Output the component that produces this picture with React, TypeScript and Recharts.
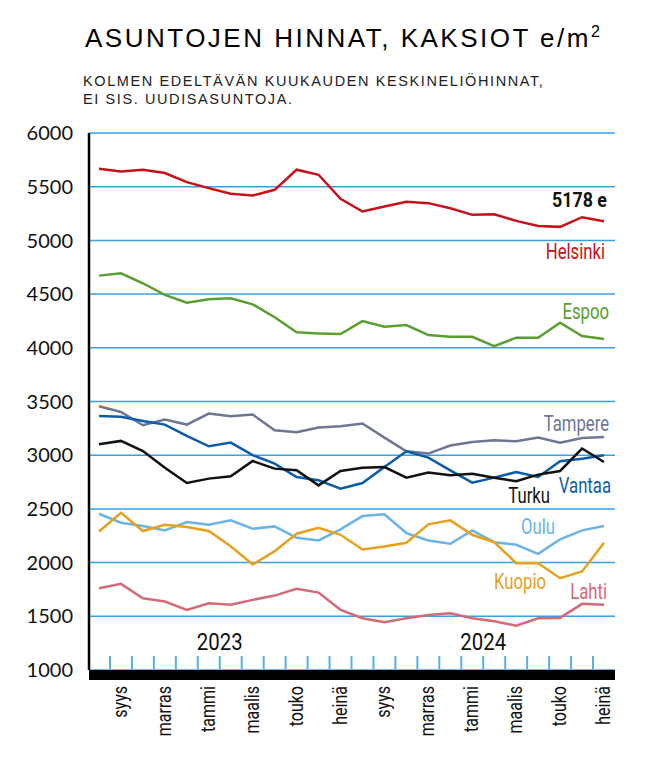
import React from 'react';
import { LineChart, Line, XAxis, YAxis, CartesianGrid, ReferenceLine } from 'recharts';

// kuukaudet elo 2022 - heinä 2024
const months = [
  'elo', 'syys', 'loka', 'marras', 'joulu', 'tammi', 'helmi', 'maalis', 'huhti', 'touko', 'kesä', 'heinä',
  'elo', 'syys', 'loka', 'marras', 'joulu', 'tammi', 'helmi', 'maalis', 'huhti', 'touko', 'kesä', 'heinä',
];
const years = ['2023', '2024'];
const yTicks = [1000, 1500, 2000, 2500, 3000, 3500, 4000, 4500, 5000, 5500, 6000];

const helsinki = [5667, 5642, 5658, 5627, 5543, 5487, 5434, 5418, 5471, 5658, 5611, 5387, 5269, 5316, 5359, 5347, 5300, 5238, 5244, 5182, 5135, 5126, 5216, 5178];
const espoo = [4672, 4694, 4601, 4492, 4420, 4452, 4461, 4405, 4284, 4144, 4134, 4128, 4249, 4196, 4212, 4119, 4103, 4103, 4016, 4094, 4094, 4233, 4109, 4081];
const tampere = [3456, 3403, 3279, 3332, 3285, 3388, 3363, 3379, 3232, 3214, 3257, 3270, 3295, 3164, 3036, 3015, 3090, 3123, 3139, 3130, 3164, 3117, 3161, 3170];
const vantaa = [3366, 3357, 3319, 3285, 3180, 3083, 3117, 3000, 2922, 2797, 2766, 2689, 2741, 2890, 3036, 2978, 2859, 2744, 2791, 2843, 2797, 2943, 2968, 3000];
const turku = [3102, 3133, 3039, 2884, 2741, 2782, 2803, 2946, 2875, 2859, 2719, 2853, 2884, 2890, 2791, 2838, 2813, 2828, 2791, 2757, 2819, 2853, 3062, 2937];
const oulu = [2455, 2371, 2340, 2300, 2377, 2353, 2393, 2315, 2337, 2231, 2206, 2309, 2433, 2449, 2275, 2206, 2175, 2300, 2190, 2166, 2082, 2216, 2300, 2340];
const kuopio = [2290, 2464, 2294, 2353, 2331, 2294, 2153, 1982, 2107, 2269, 2325, 2259, 2122, 2150, 2185, 2356, 2393, 2259, 2190, 1995, 1995, 1855, 1917, 2185];
const lahti = [1761, 1802, 1668, 1637, 1560, 1622, 1607, 1653, 1693, 1756, 1721, 1560, 1482, 1444, 1482, 1513, 1528, 1482, 1454, 1413, 1482, 1485, 1616, 1607];

const series = [
  { key: 'Helsinki', values: helsinki, color: '#c4111b', dx: 1, dy: 30 },
  { key: 'Espoo', values: espoo, color: '#5a9e30', dx: 5, dy: -28 },
  { key: 'Tampere', values: tampere, color: '#6d7792', dx: 5, dy: -14 },
  { key: 'Vantaa', values: vantaa, color: '#0c5cab', dx: 7, dy: 30 },
  { key: 'Turku', values: turku, color: '#111111', dx: -54, dy: 33 },
  { key: 'Oulu', values: oulu, color: '#6cb3e6', dx: -49, dy: 0 },
  { key: 'Kuopio', values: kuopio, color: '#e6a11f', dx: -58, dy: 38 },
  { key: 'Lahti', values: lahti, color: '#d26a78', dx: 3, dy: -14 },
];

const data = months.map((m, i) => {
  const row: any = { i, month: m };
  series.forEach((s) => { row[s.key] = s.values[i]; });
  return row;
});

const last = months.length - 1;
const cond = 'Roboto, sans-serif';
const sans = '"Liberation Sans", Arial, sans-serif';

// väliviivat kuukausien väliin + kuukausinimet joka toiselle
const xTicks: number[] = [];
months.forEach((_, i) => {
  if (i % 2 === 1) xTicks.push(i);
  if (i < last) xTicks.push(i + 0.5);
});
const yearPos = months.map((m, i) => (m === 'tammi' ? i + 0.5 : -1)).filter((v) => v >= 0);

const MonthTick = (props: any) => {
  const { x, y, payload } = props;
  const v = payload.value;
  if (!Number.isInteger(v)) {
    return <line x1={x} x2={x} y1={y - 14} y2={y - 1} stroke="#5aaee6" strokeWidth={2} />;
  }
  return (
    <text
      transform={`translate(${x + 6},${y + 16}) rotate(-90) scale(0.8,1)`}
      textAnchor="end"
      fontFamily={cond}
      fontSize={20}
      fill="#111"
    >
      {months[v]}
    </text>
  );
};

const YearLabel = (props: any) => {
  const { viewBox, value } = props;
  const cx = viewBox.x + viewBox.width / 2;
  const by = viewBox.y + viewBox.height - 20;
  return (
    <text transform={`translate(${cx},${by}) scale(0.85,1)`} textAnchor="middle" fontFamily={cond} fontSize={24} fill="#111">
      {value}
    </text>
  );
};

const endLabel = (s: any) => (props: any) => {
  const { x, y, index } = props;
  if (index !== last) return null;
  return (
    <g>
      {s.key === 'Helsinki' && (
        <text transform={`translate(${x + 3},${y - 22}) scale(0.85,1)`} dy="0.35em" textAnchor="end" fontFamily={cond} fontWeight="bold" fontSize={21} fill="#111">
          {`${s.values[last]} e`}
        </text>
      )}
      <text transform={`translate(${x + s.dx},${y + s.dy}) scale(0.76,1)`} dy="0.36em" textAnchor="end" fontFamily={cond} fontSize={22} fill={s.color}>
        {s.key}
      </text>
    </g>
  );
};

const App: React.FC = () => {
  return (
    <div style={{ position: 'absolute', left: 0, top: 0, width: 650, height: 763, background: '#fff' }}>
      <svg width={650} height={120} style={{ position: 'absolute', left: 0, top: 0 }}>
        <text x={85} y={47} fontFamily={sans} fontSize={26} letterSpacing={2.5} fill="#000">
          ASUNTOJEN HINNAT, KAKSIOT e/m<tspan dy={-10} fontSize={16}>2</tspan>
        </text>
        <text x={83} y={86} fontFamily={sans} fontSize={14.5} letterSpacing={1.6} fill="#222">
          KOLMEN EDELTÄVÄN KUUKAUDEN KESKINELIÖHINNAT,
        </text>
        <text x={83} y={104} fontFamily={sans} fontSize={14.5} letterSpacing={1.6} fill="#222">
          EI SIS. UUDISASUNTOJA.
        </text>
      </svg>
      <div style={{ position: 'absolute', left: 0, top: 0 }}>
        <LineChart width={650} height={763} data={data} margin={{ top: 133, right: 35, bottom: 33, left: 29 }}>
          <CartesianGrid vertical={false} stroke="#3b9fe0" strokeWidth={1.5} />
          <XAxis
            dataKey="i"
            type="number"
            domain={[0, last]}
            ticks={xTicks}
            interval={0}
            padding={{ left: 10, right: 11 }}
            height={60}
            tickSize={0}
            tickMargin={0}
            tickLine={false}
            tick={<MonthTick />}
            axisLine={{ stroke: '#000', strokeWidth: 10, transform: 'translate(0,5)' }}
          />
          <YAxis
            domain={[1000, 6000]}
            ticks={yTicks}
            interval={0}
            width={60}
            tickSize={0}
            tickMargin={16}
            tickLine={false}
            axisLine={{ stroke: '#000', strokeWidth: 2.5 }}
            tick={{ fontFamily: 'Lato, sans-serif', fontSize: 20, fill: '#111' }}
          />
          {yearPos.map((p, k) => (
            <ReferenceLine
              key={years[k]}
              x={p}
              stroke="none"
              label={<YearLabel value={years[k]} />}
            />
          ))}
          {series.map((s) => (
            <Line
              key={s.key}
              dataKey={s.key}
              stroke={s.color}
              strokeWidth={2.5}
              dot={false}
              type="linear"
              isAnimationActive={false}
              label={endLabel(s)}
            />
          ))}
        </LineChart>
      </div>
    </div>
  );
};

export default App;
